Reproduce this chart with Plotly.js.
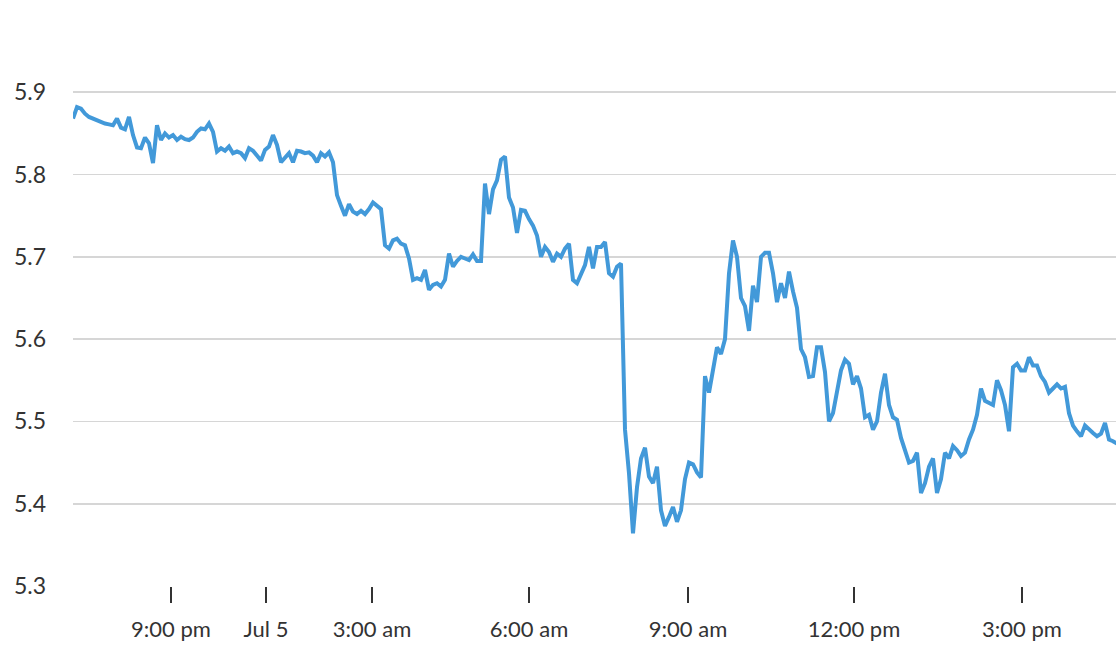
<!DOCTYPE html>
<html>
<head>
<meta charset="utf-8">
<script src="https://cdn.plot.ly/plotly-3.0.1.min.js"></script>
<style>html,body{margin:0;padding:0;background:#fff;}#chart{width:1116px;height:645px;}</style>
</head>
<body>
<div id="chart"></div>
<script>
// Sample values (one per sample, evenly spaced along the axis)
const rateValues = [
5.868,5.882,5.880,5.874,5.870,5.868,5.865,5.864,5.862,5.861,
5.860,5.868,5.857,5.855,5.870,5.848,5.833,5.832,5.845,5.838,
5.814,5.860,5.842,5.850,5.845,5.848,5.842,5.846,5.843,5.842,
5.845,5.852,5.856,5.855,5.862,5.852,5.828,5.832,5.829,5.834,
5.826,5.828,5.826,5.820,5.832,5.829,5.823,5.817,5.830,5.834,
5.848,5.836,5.815,5.820,5.826,5.815,5.829,5.828,5.826,5.827,
5.823,5.815,5.826,5.822,5.827,5.815,5.775,5.762,5.750,5.764,
5.755,5.752,5.756,5.752,5.758,5.766,5.762,5.758,5.714,5.710,
5.720,5.722,5.716,5.714,5.698,5.672,5.674,5.672,5.684,5.660,
5.666,5.668,5.664,5.672,5.704,5.688,5.695,5.700,5.698,5.696,
5.703,5.695,5.695,5.789,5.752,5.782,5.793,5.818,5.822,5.772,
5.760,5.729,5.757,5.756,5.746,5.738,5.726,5.700,5.712,5.706,
5.694,5.704,5.700,5.710,5.716,5.672,5.668,5.678,5.690,5.712,
5.686,5.712,5.712,5.718,5.680,5.676,5.688,5.692,5.490,5.437,
5.364,5.420,5.455,5.468,5.433,5.425,5.445,5.392,5.373,5.384,
5.396,5.378,5.392,5.430,5.450,5.448,5.438,5.432,5.555,5.535,
5.560,5.590,5.582,5.600,5.680,5.720,5.700,5.650,5.640,5.610,
5.665,5.645,5.700,5.705,5.705,5.680,5.645,5.668,5.650,5.682,
5.658,5.638,5.588,5.578,5.554,5.555,5.590,5.590,5.560,5.500,
5.510,5.538,5.562,5.575,5.570,5.545,5.555,5.540,5.505,5.508,
5.490,5.500,5.535,5.558,5.520,5.505,5.502,5.480,5.465,5.450,
5.452,5.462,5.413,5.425,5.445,5.455,5.413,5.430,5.462,5.455,
5.470,5.465,5.458,5.462,5.478,5.490,5.508,5.540,5.525,5.522,
5.520,5.550,5.538,5.520,5.488,5.566,5.570,5.562,5.562,5.578,
5.568,5.568,5.555,5.548,5.535,5.540,5.545,5.540,5.542,5.510,
5.495,5.488,5.482,5.495,5.490,5.486,5.482,5.485,5.498,5.478,
5.476,5.473
];
const sampleIndex = rateValues.map((_, i) => i);

// Time tick labels and the sample index where each falls
const timeTickLabels = ["9:00 pm", "Jul 5", "3:00 am", "6:00 am", "9:00 am", "12:00 pm", "3:00 pm"];
const timeTickIndex = [24.5, 48.25, 74.75, 114, 153.75, 195.25, 237.25];

const yTickValues = [5.3, 5.4, 5.5, 5.6, 5.7, 5.8, 5.9, 6.0];
const yTickLabels = ["5.3", "5.4", "5.5", "5.6", "5.7", "5.8", "5.9", ""];

const FONT = "Lato, 'Open Sans', sans-serif";
const TEXT = "#333333";

Plotly.newPlot("chart", [{
  x: sampleIndex,
  y: rateValues,
  type: "scatter",
  mode: "lines",
  line: {color: "#4299d9", width: 4},
  hoverinfo: "y"
}], {
  width: 1116,
  height: 645,
  margin: {l: 73, r: 0, t: 10, b: 59, pad: 0},
  paper_bgcolor: "#ffffff",
  plot_bgcolor: "#ffffff",
  showlegend: false,
  font: {family: FONT, color: TEXT, size: 22},
  xaxis: {
    range: [0, 260.75],
    tickmode: "array",
    tickvals: timeTickIndex,
    ticktext: timeTickLabels,
    showgrid: false,
    zeroline: false,
    showline: false,
    ticks: "outside",
    ticklen: 16,
    tickwidth: 1.5,
    tickcolor: "#333333",
    ticklabelstandoff: 8,
    tickfont: {family: FONT, color: TEXT, size: 22},
    fixedrange: true
  },
  yaxis: {
    range: [5.3, 6.0],
    tickmode: "array",
    tickvals: yTickValues,
    ticktext: yTickLabels,
    showgrid: true,
    gridcolor: "#d6d6d6",
    gridwidth: 1.6,
    zeroline: false,
    showline: false,
    ticks: "",
    ticklabelstandoff: 26,
    tickfont: {family: FONT, color: TEXT, size: 23},
    fixedrange: true
  }
}, {displayModeBar: false, staticPlot: true});
</script>
</body>
</html>
